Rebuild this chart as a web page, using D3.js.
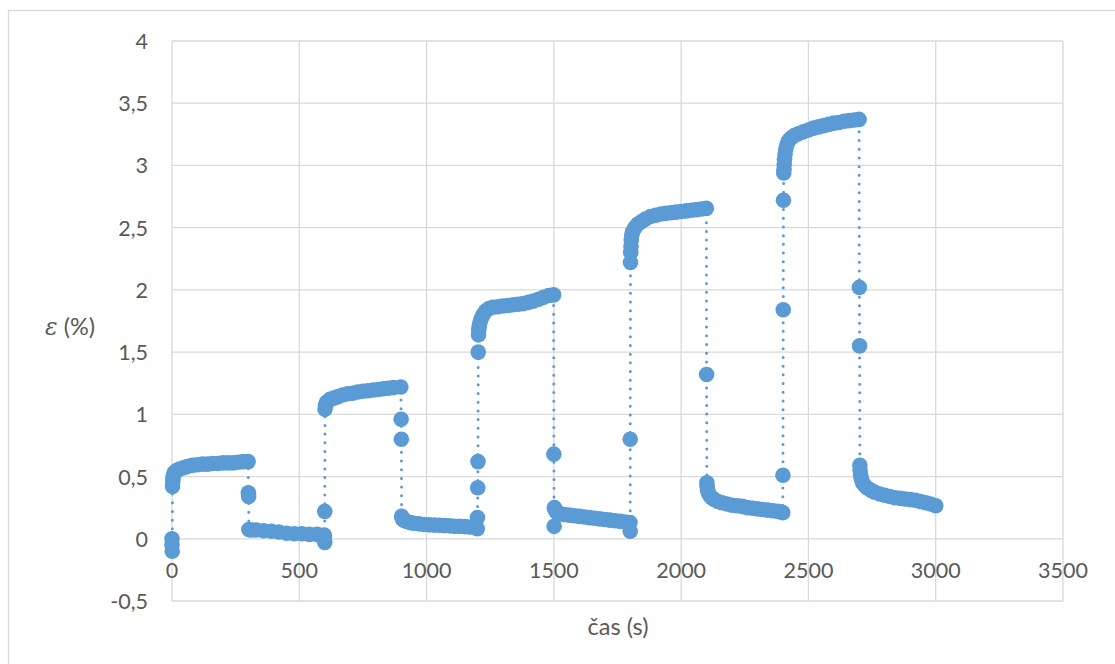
<!DOCTYPE html>
<html>
<head>
<meta charset="utf-8">
<script src="https://cdn.jsdelivr.net/npm/d3@7"></script>
<style>
  html, body { margin: 0; padding: 0; background: #ffffff; }
  svg { display: block; }
  text { font-family: Lato, "Open Sans", "Liberation Sans", sans-serif; fill: #595959; }
</style>
</head>
<body>
<svg id="chart" width="1115" height="664"></svg>
<script>
// Axis ticks
const xTicks = [0, 500, 1000, 1500, 2000, 2500, 3000, 3500];
const yTicks = [-0.5, 0, 0.5, 1, 1.5, 2, 2.5, 3, 3.5, 4];

// Strain readings [time (s), strain (%)], one array per loading / recovery step
const load1 = [[0, 0.0], [0, -0.05], [1, -0.1], [2, 0.42], [3, 0.46], [4, 0.49], [6, 0.51], [9, 0.53],
  [14, 0.54], [20, 0.55], [30, 0.56], [45, 0.57], [60, 0.58], [80, 0.59], [100, 0.595], [120, 0.60],
  [140, 0.60], [160, 0.605], [180, 0.605], [200, 0.61], [220, 0.61], [240, 0.61], [260, 0.615],
  [280, 0.62], [299, 0.62]];
const recovery1 = [[300, 0.37], [301, 0.34], [302, 0.075], [310, 0.07], [330, 0.07], [360, 0.065],
  [390, 0.06], [420, 0.055], [450, 0.045], [480, 0.04], [510, 0.04], [540, 0.035], [570, 0.035],
  [598, 0.03], [599, 0.015], [600, -0.03]];
const load2 = [[600, 0.22], [601, 1.04], [603, 1.07], [606, 1.09], [610, 1.10], [620, 1.12], [635, 1.13],
  [650, 1.14], [670, 1.155], [690, 1.165], [710, 1.17], [730, 1.18], [750, 1.185], [770, 1.19],
  [790, 1.195], [810, 1.20], [830, 1.205], [850, 1.21], [870, 1.215], [899, 1.22]];
const recovery2 = [[900, 0.96], [901, 0.80], [902, 0.18], [905, 0.16], [910, 0.15], [920, 0.14],
  [935, 0.13], [950, 0.125], [970, 0.12], [990, 0.115], [1010, 0.112], [1030, 0.11], [1050, 0.108],
  [1070, 0.106], [1090, 0.104], [1110, 0.10], [1130, 0.10], [1150, 0.098], [1170, 0.095],
  [1190, 0.09], [1199, 0.08]];
const load3 = [[1200, 0.17], [1201, 0.41], [1202, 0.62], [1203, 1.50], [1204, 1.64], [1205, 1.68],
  [1207, 1.71], [1210, 1.74], [1215, 1.77], [1222, 1.80], [1232, 1.83], [1245, 1.85], [1260, 1.86],
  [1280, 1.865], [1300, 1.87], [1320, 1.875], [1340, 1.88], [1360, 1.885], [1380, 1.89], [1400, 1.90],
  [1420, 1.91], [1440, 1.925], [1460, 1.94], [1480, 1.955], [1499, 1.96]];
const recovery3 = [[1500, 0.68], [1501, 0.10], [1502, 0.25], [1504, 0.24], [1508, 0.22], [1515, 0.21],
  [1525, 0.20], [1540, 0.195], [1560, 0.19], [1580, 0.185], [1600, 0.18], [1620, 0.175], [1640, 0.17],
  [1660, 0.165], [1680, 0.16], [1700, 0.155], [1720, 0.15], [1740, 0.145], [1760, 0.14], [1780, 0.135],
  [1799, 0.13], [1800, 0.06]];
const load4 = [[1800, 0.80], [1801, 2.22], [1802, 2.30], [1803, 2.35], [1804, 2.40], [1806, 2.44],
  [1810, 2.47], [1818, 2.50], [1830, 2.53], [1845, 2.55], [1860, 2.57], [1880, 2.59], [1900, 2.60],
  [1920, 2.61], [1940, 2.615], [1960, 2.62], [1980, 2.625], [2000, 2.63], [2020, 2.635], [2040, 2.64],
  [2060, 2.645], [2080, 2.65], [2099, 2.655]];
const recovery4 = [[2100, 1.32], [2101, 0.45], [2102, 0.42], [2104, 0.39], [2107, 0.37], [2112, 0.35],
  [2120, 0.33], [2130, 0.315], [2145, 0.30], [2160, 0.29], [2180, 0.28], [2200, 0.27], [2220, 0.265],
  [2240, 0.26], [2260, 0.25], [2280, 0.245], [2300, 0.24], [2320, 0.235], [2340, 0.23], [2360, 0.225],
  [2380, 0.22], [2399, 0.21]];
const load5 = [[2400, 0.51], [2401, 1.84], [2402, 2.72], [2403, 2.94], [2404, 2.97], [2405, 3.01],
  [2406, 3.05], [2408, 3.09], [2411, 3.13], [2416, 3.17], [2423, 3.20], [2432, 3.22], [2445, 3.24],
  [2460, 3.255], [2480, 3.27], [2500, 3.285], [2520, 3.30], [2540, 3.31], [2560, 3.32], [2580, 3.33],
  [2600, 3.34], [2620, 3.345], [2640, 3.355], [2660, 3.36], [2680, 3.365], [2699, 3.37]];
const recovery5 = [[2700, 2.02], [2701, 1.55], [2702, 0.59], [2703, 0.55], [2705, 0.51], [2708, 0.48],
  [2713, 0.45], [2720, 0.43], [2730, 0.41], [2745, 0.39], [2760, 0.375], [2780, 0.36], [2800, 0.35],
  [2820, 0.34], [2840, 0.33], [2860, 0.325], [2880, 0.32], [2900, 0.315], [2920, 0.31], [2940, 0.30],
  [2960, 0.29], [2980, 0.28], [3000, 0.265]];

const series = [].concat(load1, recovery1, load2, recovery2, load3, recovery3,
                         load4, recovery4, load5, recovery5);

const svg = d3.select("#chart");
const plot = { left: 172, top: 41, right: 1063, bottom: 601 };

const x = d3.scaleLinear().domain([0, 3500]).range([plot.left, plot.right]);
const y = d3.scaleLinear().domain([-0.5, 4]).range([plot.bottom, plot.top]);

const locale = d3.formatLocale({ decimal: ",", thousands: "", grouping: [3], currency: ["", ""], minus: "-" });
const fmt = locale.format("~g");

// Chart frame
svg.append("rect")
  .attr("x", 8.5).attr("y", 10.5).attr("width", 1130).attr("height", 700)
  .attr("fill", "none").attr("stroke", "#d9d9d9").attr("stroke-width", 1.3);

// Gridlines
const grid = svg.append("g").attr("stroke", "#d9d9d9").attr("stroke-width", 1.3);
grid.selectAll("line.h").data(yTicks).join("line")
  .attr("x1", plot.left).attr("x2", plot.right)
  .attr("y1", d => y(d)).attr("y2", d => y(d));
grid.selectAll("line.v").data(xTicks).join("line")
  .attr("y1", plot.top).attr("y2", plot.bottom)
  .attr("x1", d => x(d)).attr("x2", d => x(d));

// Y axis tick labels
svg.append("g").selectAll("text").data(yTicks).join("text")
  .attr("x", 148).attr("y", d => y(d))
  .attr("text-anchor", "end").attr("dominant-baseline", "central")
  .style("font-size", "21.5px")
  .text(d => fmt(d));

// X axis tick labels (axis crosses at 0)
svg.append("g").selectAll("text").data(xTicks).join("text")
  .attr("x", d => x(d)).attr("y", 578)
  .attr("text-anchor", "middle")
  .style("font-size", "21.5px")
  .text(d => fmt(d));

// Axis titles
svg.append("text")
  .attr("x", 618).attr("y", 635)
  .attr("text-anchor", "middle")
  .style("font-size", "23.5px")
  .text("čas (s)");

const yTitle = svg.append("text")
  .attr("x", 45).attr("y", 335)
  .style("font-size", "23.5px");
yTitle.append("tspan").style("font-style", "italic")
  .style("font-family", "'DejaVu Serif', 'Liberation Serif', serif").text("ε");
yTitle.append("tspan").text(" (%)");

// Dotted connecting line
const line = d3.line().x(d => x(d[0])).y(d => y(d[1]));
svg.append("path")
  .datum(series)
  .attr("d", line)
  .attr("fill", "none")
  .attr("stroke", "#5b9bd5")
  .attr("stroke-width", 3)
  .attr("stroke-linecap", "round")
  .attr("stroke-dasharray", "0 8.7");

// Markers
svg.append("g").attr("fill", "#5b9bd5")
  .selectAll("circle").data(series).join("circle")
  .attr("cx", d => x(d[0])).attr("cy", d => y(d[1]))
  .attr("r", 7.8);
</script>
</body>
</html>
